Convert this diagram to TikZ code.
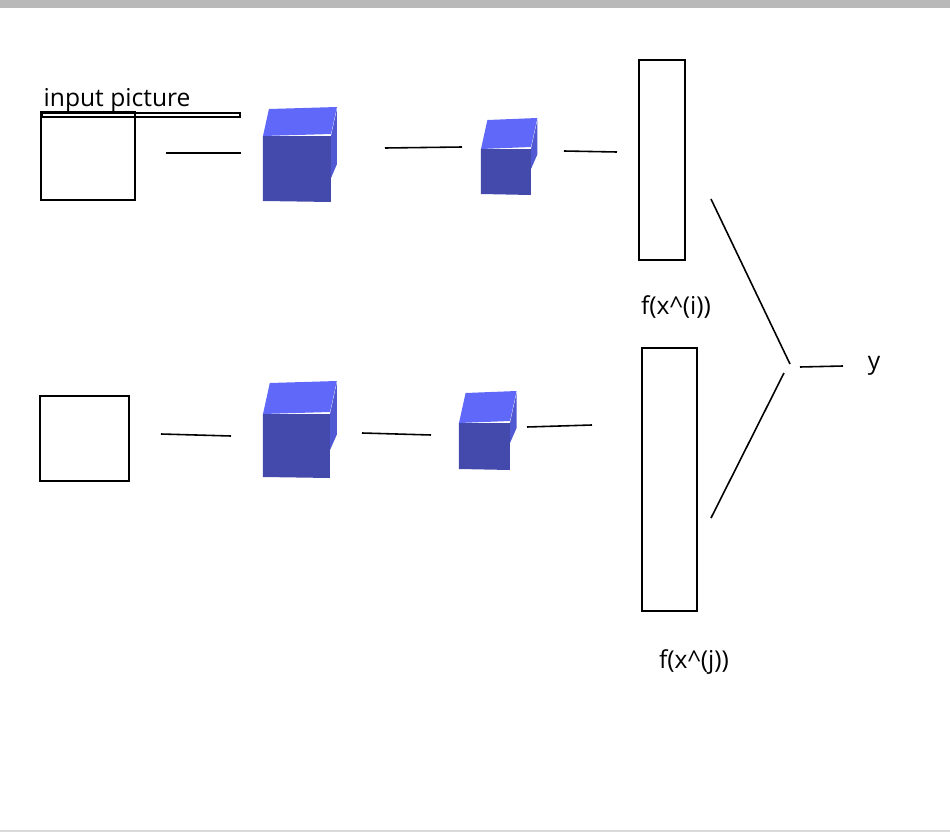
\documentclass[tikz,border=0pt]{standalone}
\usepackage{fontspec}
\setmainfont{Open Sans}
\definecolor{cubefront}{HTML}{4449AC}
\definecolor{cubetop}{HTML}{5F68F9}
\definecolor{cubeside}{HTML}{5058D2}
\tikzset{box/.style={draw, line width=.6pt, inner sep=0pt},
  lbl/.style={font=\fontsize{7pt}{8pt}\selectfont, inner sep=0pt},
  link/.style={line width=.45pt}}
\newcommand{\cube}[5]{% x y front-width front-height depth
  \fill[cubetop] (#1,#2) -- ++(#5*.22,-#5) -- ++(#3,-2) -- ++(-#5*.22,#5) -- cycle;
  \fill[cubeside] (#1+#3,#2) -- ++(#5*.22,-#5) -- ++(0,#4-#5*.4) -- ++(-#5*.22,#5*.4+3) -- cycle;
  \fill[cubefront] (#1,#2) -- (#1+#3,#2) -- (#1+#3,#2+#4) -- (#1,#2+#4-1) -- cycle;
}
\begin{document}
\begin{tikzpicture}[x=0.01cm,y=-0.01cm]
\useasboundingbox (0,0) rectangle (950,839);
\fill[gray!55] (0,0) rectangle (950,8);
\draw[gray!30] (0,831) -- (950,831);
\node[box, minimum width=94\pgflinewidth, anchor=north west] (in1) at (41,112) {};
\draw[line width=.6pt] (41,112) rectangle (135,200);
\draw[line width=.6pt] (40,396) rectangle (129,481);
\draw[line width=.6pt] (639,60) rectangle (685,260);
\draw[line width=.6pt] (642,348) rectangle (697,611);
\cube{263}{136}{68}{66}{27}
\cube{481}{149}{50}{46}{29}
\cube{263}{414}{67}{64}{31}
\cube{459}{423}{51}{47}{30}
\node[lbl, anchor=west] (inp) at (43,100) {input picture};
\node[lbl] (fi) at (676,307) {f(x\^{}(i))};
\node[lbl] (fj) at (694,662) {f(x\^{}(j))};
\node[lbl] (y) at (874,366) {y};
\coordinate (a1) at (166,153); \coordinate (a2) at (241,153);
\coordinate (b1) at (385,148); \coordinate (b2) at (462,147);
\coordinate (c1) at (564,151); \coordinate (c2) at (617,152);
\coordinate (d1) at (161,434); \coordinate (d2) at (231,436);
\coordinate (e1) at (362,433); \coordinate (e2) at (431,435);
\coordinate (g1) at (527,427); \coordinate (g2) at (592,425);
\coordinate (h1) at (711,199); \coordinate (h2) at (790,364);
\coordinate (k1) at (711,518); \coordinate (k2) at (784,373);
\coordinate (m1) at (800,367); \coordinate (m2) at (843,366);
\foreach \s/\t in {a1/a2,b1/b2,c1/c2,d1/d2,e1/e2,g1/g2,h1/h2,k1/k2,m1/m2}
  \draw[link] (\s) -- (\t);
\end{tikzpicture}
\end{document}
